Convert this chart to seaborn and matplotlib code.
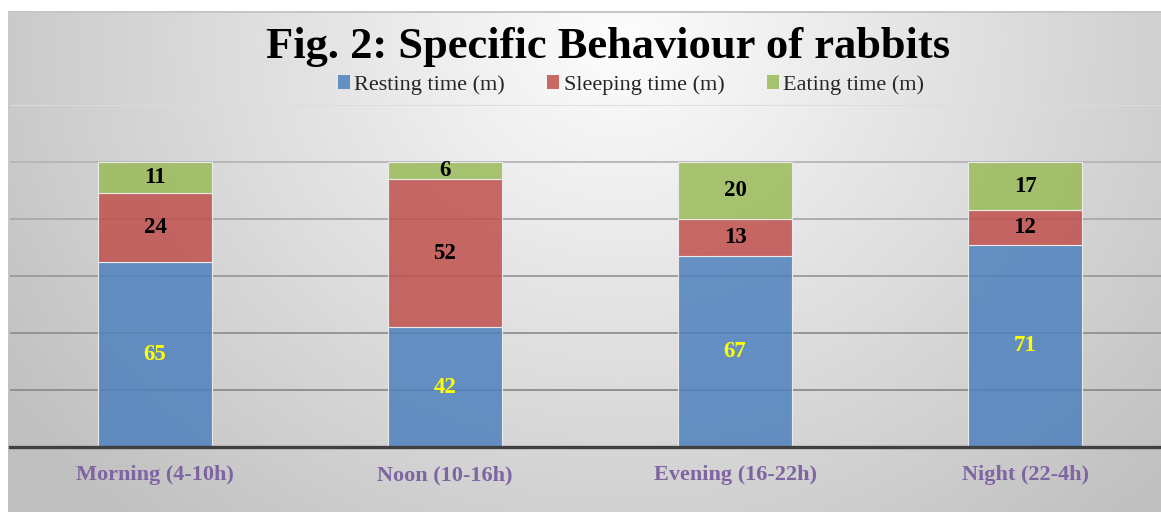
import numpy as np
import pandas as pd
import matplotlib
matplotlib.use("Agg")
import matplotlib.pyplot as plt
import seaborn as sns
from matplotlib.patches import Patch

# ---- data ----
periods = ["Morning (4-10h)", "Noon (10-16h)", "Evening (16-22h)", "Night (22-4h)"]
series_names = ["Resting time (m)", "Sleeping time (m)", "Eating time (m)"]
resting = [65, 42, 67, 71]
sleeping = [24, 52, 13, 12]
eating = [11, 6, 20, 17]
title = "Fig. 2: Specific Behaviour of rabbits"

colors = ["#4F81BD", "#C0504D", "#9BBB59"]
label_colors = ["#FFFF00", "#000000", "#000000"]

sns.set_theme(style="white")
plt.rcParams["font.family"] = ["Liberation Serif", "DejaVu Serif"]

rows = []
for name, vals in zip(series_names, [resting, sleeping, eating]):
    for p, v in zip(periods, vals):
        rows.append({"period": p, "behaviour": name, "minutes": v})
df = pd.DataFrame(rows)
df["period"] = pd.Categorical(df["period"], categories=periods, ordered=True)

W, H = 1161, 512
fig = plt.figure(figsize=(W / 100, H / 100), dpi=100)

# background gradient panel
bg = fig.add_axes([0, 0, 1, 1], zorder=-10)
yy, xx = np.mgrid[0:H, 0:W]
d = np.sqrt(((xx - 620) / 700.0) ** 2 + ((yy - 40) / 620.0) ** 2)
val = np.clip(253 - 58 * d, 192, 253) / 255.0
img = np.dstack([val, val, val])
# white margin at top/left
img[:11, :, :] = 1.0
img[:, :8, :] = 1.0
img[11:13, 8:, :] = np.minimum(img[11:13, 8:, :], 0.78)
bg.imshow(img, aspect="auto", extent=[0, 1, 0, 1], origin="upper")
bg.set_axis_off()

# main axes: categories spaced 290 px, first centre at x=155 px; y 0 at 447 px, 120 at 105 px
left = 10 / W
bottom = (H - 447) / H
ax = fig.add_axes([left, bottom, 1160 / W, (447 - 105) / H])
ax.set_facecolor("none")

# histplot stacks the first hue level on top, so pass the order reversed
sns.histplot(
    data=df, x="period", weights="minutes", hue="behaviour",
    hue_order=series_names[::-1], multiple="stack", discrete=True, shrink=0.393,
    palette=colors[::-1], alpha=0.85, edgecolor="#eaeaea", linewidth=0.8,
    legend=False, ax=ax, zorder=3,
)

ax.set_xlim(-0.5, 3.5)
ax.set_ylim(0, 120)
ax.set_yticks(range(0, 121, 20))
ax.set_yticklabels([])
ax.tick_params(axis="y", length=0)
ax.yaxis.grid(True, linewidth=1.3)
ax.set_axisbelow(True)
grid_cols = ["#ffffff", "#8c8c8c", "#909090", "#9a9a9a", "#a8a8a8", "#b5b5b5", "#dcdcdc"]
for gl, c in zip(ax.get_ygridlines(), grid_cols):
    gl.set_color(c)
ax.get_ygridlines()[0].set_visible(False)
ax.xaxis.grid(False)

for s in ["top", "right", "left"]:
    ax.spines[s].set_visible(False)
ax.spines["bottom"].set_color("#404040")
ax.spines["bottom"].set_linewidth(2.4)
ax.spines["bottom"].set_zorder(5)

ax.set_xticks(range(len(periods)))
ax.set_xticklabels(periods, fontsize=16, fontweight="bold", color="#7F64A2")
ax.tick_params(axis="x", length=0, pad=13)
ax.set_xlabel("")
ax.set_ylabel("")

# data labels
cum = np.zeros(len(periods))
for vals, lc in zip([resting, sleeping, eating], label_colors):
    vals = np.array(vals, dtype=float)
    for i, v in enumerate(vals):
        ax.text(i, cum[i] + v / 2, f"{int(v)}", ha="center", va="center",
                fontsize=16.5, fontweight="bold", color=lc, zorder=6)
    cum += vals

fig.text(608 / W, 1 - 47 / H, title, ha="center", va="center",
         fontsize=32, fontweight="bold", color="black")

handles = [Patch(facecolor=c, alpha=0.85, edgecolor="none") for c in colors]
fig.legend(handles, series_names, loc="center", bbox_to_anchor=(631 / W, 1 - 85 / H),
           ncol=3, frameon=False, fontsize=16, handlelength=0.55, handleheight=0.55,
           handletextpad=0.2, columnspacing=1.9)

fig.savefig("out.png", dpi=100)
